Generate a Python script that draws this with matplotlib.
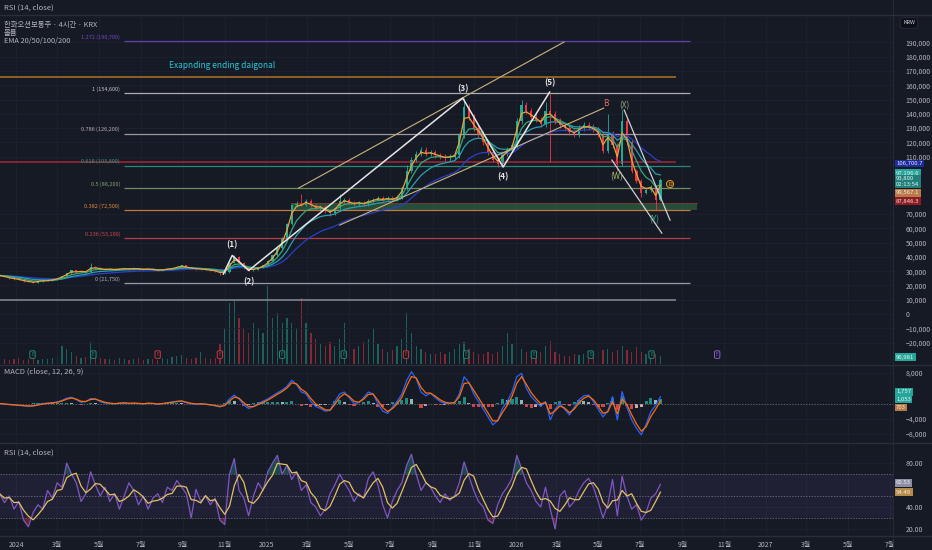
import numpy as np
import pandas as pd
import matplotlib as mpl
import matplotlib.pyplot as plt
import matplotlib.dates as mdates
from matplotlib.ticker import FuncFormatter

plt.rcParams['font.family'] = ['Noto Sans CJK KR', 'DejaVu Sans']

W, H = 932, 550
BG = '#161a25'
GRID = '#1e2230'
TXT = '#b2b5be'
UP, DOWN = '#22ab94', '#f23645'

# ---- data (weekly) ----
close_k = [
    27.0, 26.0, 25.0, 24.5, 24.0, 23.0, 22.5, 22.0, 23.0, 23.5,
    23.5, 24.0, 25.0, 26.5, 28.5, 30.5, 29.5, 30.0, 29.5, 33.0,
    32.5, 31.5, 31.0, 31.5, 31.0, 31.5, 32.0, 31.5, 32.0, 31.5,
    31.0, 31.5, 31.0, 30.5, 31.0, 31.5, 32.0, 33.0, 34.0, 32.5,
    32.0, 31.5, 31.5, 31.0, 30.5, 30.0, 28.5, 29.5, 36.0, 40.0,
    36.0, 32.0, 30.5, 31.0, 32.5, 34.0, 37.0, 41.0, 46.0, 53.0,
    63.0, 76.0, 78.0, 76.5, 79.0, 76.0, 74.0, 75.0, 72.0, 70.5,
    74.0, 79.0, 80.0, 78.0, 77.0, 78.0, 77.0, 79.0, 80.0, 81.0,
    80.0, 81.0, 80.0, 82.0, 88.0, 100.0, 108.0, 112.0, 115.0, 112.0,
    113.0, 111.0, 110.0, 109.0, 110.0, 111.0, 125.0, 145.0, 138.0, 130.0,
    126.0, 120.0, 113.0, 108.0, 105.0, 112.0, 115.0, 118.0, 135.0, 146.0,
    142.0, 138.0, 136.0, 133.0, 142.0, 140.0, 135.0, 132.0, 130.0, 127.0,
    126.0, 130.0, 132.0, 131.0, 129.0, 126.0, 114.0, 126.0, 118.0, 105.0,
    135.0, 120.0, 100.0, 93.0, 85.0, 87.0, 89.0, 80.0, 93.8]

wick_hi = {19: 35.5, 49: 41.5, 63: 84.0, 71: 84.0, 85: 104.0, 97: 151.0,
           109: 150.0, 114: 148.0, 115: 154.6, 127: 140.0, 130: 143.0}
wick_lo = {7: 21.75, 46: 27.5, 52: 29.8, 69: 68.5, 104: 103.0, 115: 106.0,
           129: 100.0, 134: 82.0, 137: 73.0}

volume = [
    8, 5, 4, 5, 6, 4, 5, 6, 4, 5,
    5, 6, 8, 18, 15, 12, 8, 6, 7, 22,
    10, 6, 5, 5, 4, 6, 5, 4, 5, 6,
    4, 5, 5, 4, 6, 5, 7, 8, 9, 6,
    5, 6, 12, 6, 5, 6, 20, 35, 60, 62,
    45, 35, 30, 40, 35, 30, 78, 45, 50, 40,
    45, 40, 35, 65, 40, 30, 25, 20, 18, 22,
    18, 25, 40, 20, 15, 18, 22, 25, 35, 20,
    15, 12, 14, 18, 25, 50, 30, 18, 15, 12,
    10, 10, 12, 10, 12, 15, 20, 22, 15, 12,
    10, 10, 12, 10, 12, 18, 30, 20, 32, 15,
    12, 10, 10, 12, 18, 23, 12, 10, 8, 8,
    10, 9, 10, 12, 10, 12, 14, 15, 12, 14,
    18, 14, 12, 17, 12, 10, 8, 10, 8]

macd_k = [
    0.0, -0.2, -0.3, -0.4, -0.5, -0.6, -0.7, -0.6, -0.3, 0.0,
    0.1, 0.2, 0.4, 0.8, 1.4, 1.6, 1.0, 0.3, 0.5, 1.3,
    1.2, 0.5, 0.1, 0.0, -0.1, 0.1, 0.2, 0.0, 0.1, 0.0,
    -0.1, 0.1, 0.0, -0.2, 0.0, 0.2, 0.4, 0.6, 0.7, 0.2,
    -0.1, -0.2, -0.1, -0.2, -0.4, -0.6, -0.9, -0.4, 1.2, 2.2,
    1.2, -0.4, -1.3, -0.8, 0.0, 0.6, 1.2, 2.0, 2.8, 3.5,
    4.5, 6.1, 5.0, 3.0, 2.5, 0.5, -0.8, -1.3, -2.0, -1.8,
    0.5, 2.5, 3.0, 1.5, 0.0, 0.2, 1.5, 3.0, 2.5, 0.0,
    -2.0, -2.6, -1.0, 0.5, 2.5, 6.0, 8.3, 6.5, 3.0, 2.0,
    2.7, 1.5, 0.5, 0.0, 0.0, 0.3, 2.5, 7.0, 5.5, 2.5,
    0.5, -1.5, -3.5, -5.6, -4.5, -1.3, 0.5, 3.0, 7.0, 7.9,
    4.0, 1.8, 0.5, -0.8, 0.5, -4.3, -1.5, 0.0, -1.5, -3.0,
    -1.0, 1.0, 2.0, 2.2, 0.5, -1.5, -3.5, -2.0, 1.8, -4.3,
    3.1, -1.0, -4.3, -6.5, -8.2, -5.5, -2.1, -0.5, 1.757]

rsi = [
    52, 44, 50, 38, 45, 28, 22, 35, 42, 38,
    55, 48, 62, 58, 80, 70, 62, 45, 52, 72,
    60, 50, 58, 45, 52, 38, 50, 62, 55, 42,
    50, 38, 48, 52, 44, 58, 55, 64, 58, 52,
    30, 56, 45, 50, 42, 48, 28, 24, 70, 84,
    55, 48, 32, 50, 62, 55, 72, 80, 87, 70,
    78, 65, 72, 55, 60, 44, 40, 32, 38, 52,
    60, 70, 62, 55, 45, 52, 48, 66, 72, 60,
    42, 30, 45, 55, 62, 78, 88, 70, 55, 62,
    58, 50, 44, 52, 46, 50, 62, 81, 68, 55,
    45, 40, 28, 25, 42, 52, 58, 66, 87, 75,
    62, 55, 45, 40, 58, 38, 20, 50, 55, 40,
    45, 55, 62, 66, 58, 45, 30, 42, 65, 32,
    68, 50, 38, 42, 28, 35, 48, 52, 60.53]

fib_ratios = ['1.272', '1', '0.786', '0.618', '0.5', '0.382', '0.236', '0']
fib_prices = [190700, 154600, 126200, 103800, 88200, 72500, 53100, 21750]
fib_colors = ['#7049c9', '#c8c8cc', '#b9aab4', '#2e9c86', '#7fa56a', '#e08a3c', '#d4454f', '#b0b3bb']

hline_prices = [165700, 106000, 9800]
hline_colors = ['#c27c2c', '#b2283a', '#9598a1']

wave_dates = ['2024-10-30', '2024-11-12', '2024-12-06', '2025-10-15', '2025-12-13', '2026-02-19']
wave_prices = [28000, 41000, 30500, 151000, 102800, 155200]
wave_labels = ['(1)', '(2)', '(3)', '(4)', '(5)']
wave_label_prices = [48200, 22400, 157300, 95800, 161500]

earn_dates = ['2024-01-25', '2024-04-23', '2024-07-26', '2024-10-25', '2025-01-24',
              '2025-04-24', '2025-07-24', '2025-10-20', '2026-01-27', '2026-04-20',
              '2026-07-18', '2026-10-22']
earn_kind = ['g', 'g', 'r', 'r', 'g', 'g', 'r', 'g', 'g', 'g', 'g', 'p']

# ---- derived series ----
dates = pd.date_range('2023-12-08', periods=len(close_k), freq='7D')
c = np.array(close_k) * 1000
o = np.r_[c[0], c[:-1]]
hi = np.maximum(o, c) * 1.015
lo = np.minimum(o, c) * 0.985
for k, v in wick_hi.items():
    hi[k] = v * 1000
for k, v in wick_lo.items():
    lo[k] = v * 1000
cols = np.where(c >= o, UP, DOWN)

s = pd.Series(c)
emas = [(s.ewm(span=n, adjust=False).mean(), col)
        for n, col in [(20, '#2940c8'), (10, '#26a0b0'), (5, '#3aa57a'), (2, '#e8a33d')]]

macd = pd.Series(macd_k) * 1000
signal = macd.ewm(span=2, adjust=False).mean()
hist = macd - signal
rsi_s = pd.Series(rsi, dtype=float)
rsi_ma = rsi_s.rolling(3, min_periods=1).mean()

# ---- figure ----
fig = plt.figure(figsize=(W / 100, H / 100), dpi=100, facecolor=BG)


def px_rect(x0, y0, x1, y1):
    return [x0 / W, 1 - y1 / H, (x1 - x0) / W, (y1 - y0) / H]


ax = fig.add_axes(px_rect(0, 15, 893, 364))
ax_m = fig.add_axes(px_rect(0, 365, 893, 442), sharex=ax)
ax_r = fig.add_axes(px_rect(0, 443, 893, 535), sharex=ax)

# volume overlay behind the candles
ax_v = ax.twinx()
ax_v.bar(dates, volume, width=1.8, color=cols, alpha=0.5, lw=0)
ax_v.set_ylim(0, max(volume) * 4.4)
ax_v.axis('off')
ax.set_zorder(ax_v.get_zorder() + 1)
ax.patch.set_visible(False)

xmin, xmax = pd.Timestamp('2023-12-08 12:00'), pd.Timestamp('2027-07-06')
tick_dates = pd.date_range('2024-01-01', '2027-07-01', freq='2MS')
tick_labels = [str(d.year) if d.month == 1 else f'{d.month}월' for d in tick_dates]

fmt = FuncFormatter(lambda v, p: f'{v:,.0f}'.replace('-', '\u2212'))
for a in (ax, ax_m, ax_r):
    a.set_facecolor(BG)
    for sp in a.spines.values():
        sp.set_visible(False)
    a.yaxis.tick_right()
    a.tick_params(axis='y', colors=TXT, labelsize=5, length=0, pad=9)
    a.tick_params(axis='x', colors=TXT, labelsize=5, length=0, pad=4)
    a.set_xticks(tick_dates)
    a.grid(color=GRID, lw=0.6)
    a.set_axisbelow(True)
ax.set_xlim(xmin, xmax)
ax.tick_params(axis='x', labelbottom=False)
ax_m.tick_params(axis='x', labelbottom=False)
ax_r.set_xticklabels(tick_labels)

# main price pane
ax.set_ylim(-34900, 209100)
ax.set_yticks([v for v in range(-20000, 190001, 10000) if not 80000 <= v <= 100000])
ax.yaxis.set_major_formatter(fmt)

for d, kind in zip(pd.to_datetime(earn_dates), earn_kind):
    ec = {'g': '#1f8f7a', 'r': '#d03b45', 'p': '#8a63d2'}[kind]
    ax.annotate('E', (d, 0.027), xycoords=('data', 'axes fraction'), ha='center', va='center',
                fontsize=3.5, color=ec,
                bbox=dict(boxstyle='round,pad=0.25', fc='#10141d', ec=ec, lw=0.7))

fib_start, fib_end = pd.Timestamp('2024-06-07'), pd.Timestamp('2026-09-12')
for r, p, col in zip(fib_ratios, fib_prices, fib_colors):
    ax.hlines(p, fib_start, fib_end, color=col, lw=0.9, alpha=0.85)
    ax.text(pd.Timestamp('2024-06-01'), p + 900, f'{r} ({p:,})', color=col,
            fontsize=4, ha='right', va='bottom')
for p, col in zip(hline_prices, hline_colors):
    ax.hlines(p, xmin, pd.Timestamp('2026-08-23'), color=col, lw=1.1, alpha=0.9)

ax.fill_between([pd.Timestamp('2025-02-06'), pd.Timestamp('2026-09-22')], 73000, 77600,
                color='#2e5e3e', alpha=0.75, lw=0)
ax.plot([pd.Timestamp('2025-02-06'), pd.Timestamp('2026-09-22')], [77600, 77600],
        color='#7a3b2e', lw=0.6)

ax.vlines(dates, lo, hi, colors=cols, lw=0.6)
ax.bar(dates, np.maximum(np.abs(c - o), 300), bottom=np.minimum(o, c),
       width=3.2, color=cols, lw=0)
for e, col in emas:
    ax.plot(dates, e, color=col, lw=0.9)

# drawings
ax.plot(pd.to_datetime(['2025-02-17', '2026-03-12']), [88100, 190200], color='#c9b47c', lw=0.8)
ax.plot(pd.to_datetime(['2025-04-18', '2026-05-09']), [62200, 144000], color='#c9b47c', lw=0.8)
ax.plot(pd.to_datetime(wave_dates), wave_prices, color='#e6e6e6', lw=1.1)
ax.plot(pd.to_datetime(['2026-06-08', '2026-08-14']), [142700, 65700], color='#d0d0d0', lw=0.9)
ax.plot(pd.to_datetime(['2026-05-21', '2026-08-02']), [107700, 56600], color='#d0d0d0', lw=0.9)

for d, lab, p in zip(pd.to_datetime(wave_dates[1:]), wave_labels, wave_label_prices):
    ax.text(d, p, lab, color='#e6e6e6', fontsize=6, ha='center', va='center', fontweight='bold')
ax.text(pd.Timestamp('2026-05-12'), 146900, 'B', color='#e0675e', fontsize=6, ha='center', va='center')
ax.text(pd.Timestamp('2026-06-09'), 145500, '(X)', color='#8fa88a', fontsize=6, ha='center', va='center')
ax.text(pd.Timestamp('2026-05-28'), 95800, '(W)', color='#a5b86a', fontsize=6, ha='center', va='center')
ax.text(pd.Timestamp('2026-07-22'), 65700, '(Y)', color='#3fae8a', fontsize=6, ha='center', va='center')
ax.text(pd.Timestamp('2026-08-14'), 90900, 'D', color='#f5a623', fontsize=4, ha='center', va='center',
        bbox=dict(boxstyle='circle,pad=0.2', fc='#3a2a1a', ec='#f5a623', lw=0.6))
ax.text(pd.Timestamp('2024-10-28'), 174100, 'Exapnding ending daigonal', color='#26c6da',
        fontsize=6, ha='center', va='center')

# MACD pane
ax_m.set_ylim(-10070, 10070)
ax_m.set_yticks([-8000, -4000, 8000])
ax_m.yaxis.set_major_formatter(fmt)
prev = hist.shift(1).fillna(0)
hcols = np.where(hist >= 0, np.where(hist >= prev, '#26a69a', '#b2dfdb'),
                 np.where(hist < prev, '#ff5252', '#ffcdd2'))
ax_m.bar(dates, hist, width=4.5, color=hcols, alpha=0.8, lw=0)
ax_m.axhline(0, color='#787b86', lw=0.5, ls=(0, (2, 2)))
ax_m.plot(dates, macd, color='#2962ff', lw=0.9)
ax_m.plot(dates, signal, color='#ff6d00', lw=0.9)

# RSI pane
ax_r.set_ylim(14.5, 98.2)
ax_r.set_yticks([20, 40, 80])
ax_r.yaxis.set_major_formatter(FuncFormatter(lambda v, p: f'{v:.2f}'))
ax_r.axhspan(30, 70, color='#7e57c2', alpha=0.1, lw=0)
for lvl in (30, 50, 70):
    ax_r.axhline(lvl, color='#787b86', lw=0.5, ls=(0, (2, 2)))
ax_r.fill_between(dates, 70, rsi_s, where=rsi_s > 70, color='#26a69a', alpha=0.35, lw=0,
                  interpolate=True)
ax_r.fill_between(dates, 30, rsi_s, where=rsi_s < 30, color='#f23645', alpha=0.35, lw=0,
                  interpolate=True)
ax_r.plot(dates, rsi_s, color='#7e57c2', lw=0.9)
ax_r.plot(dates, rsi_ma, color='#e2c162', lw=0.9)

# pane separators and frame
for y in (15, 364.5, 442.5, 535.5):
    fig.add_artist(plt.Line2D([0, 1], [1 - y / H] * 2, color='#2a2e39', lw=1,
                              transform=fig.transFigure))
fig.add_artist(plt.Line2D([893 / W] * 2, [0, 1], color='#2a2e39', lw=0.6,
                          transform=fig.transFigure))


# texts
def ftext(x, y, s, **kw):
    fig.text(x / W, 1 - y / H, s, **kw)


ftext(4, 8, 'RSI (14, close)', color=TXT, fontsize=5.5, va='center')
ftext(4, 25, '한화오션보통주 · 4시간 · KRX', color=TXT, fontsize=5.3, va='center')
ftext(4, 33, '볼륨', color=TXT, fontsize=5.3, va='center')
ftext(4, 41, 'EMA 20/50/100/200', color=TXT, fontsize=5.3, va='center')
ftext(4, 372, 'MACD (close, 12, 26, 9)', color=TXT, fontsize=5.5, va='center')
ftext(4, 453, 'RSI (14, close)', color=TXT, fontsize=5.5, va='center')
ftext(903, 23, 'KRW', color='#d1d4dc', fontsize=4, va='center',
      bbox=dict(boxstyle='round,pad=0.5', fc='#0c0f16', ec='#2a2e39', lw=0.6))

labels = [
    (163.5, '106,700.7', '#1d2b9c', '#e8e8f0'),
    (173, '97,196.6', '#26a69a', '#e8f5f3'),
    (181.5, '93,800\n02:13:54', '#1f7f7a', '#e8f5f3'),
    (193, '99,567.1', '#b87a48', '#f5ebe0'),
    (201, '87,846.3', '#8e1b22', '#f5e0e0'),
    (357, '90,981', '#26a69a', '#e8f5f3'),
    (392, '1,757', '#26a69a', '#e8f5f3'),
    (399.5, '1,053', '#26a69a', '#e8f5f3'),
    (407.5, '703', '#b87a48', '#f5ebe0'),
    (483, '60.53', '#8c8fa3', '#f0f0f5'),
    (492, '54.49', '#b58b4a', '#f5ebe0'),
]
for y, s, fc, tc in labels:
    ftext(896, y, s, color=tc, fontsize=4.3, va='center', ha='left', linespacing=1.1,
          bbox=dict(boxstyle='square,pad=0.25', fc=fc, ec='none'))

fig.savefig('out.png', dpi=100, facecolor=BG)
